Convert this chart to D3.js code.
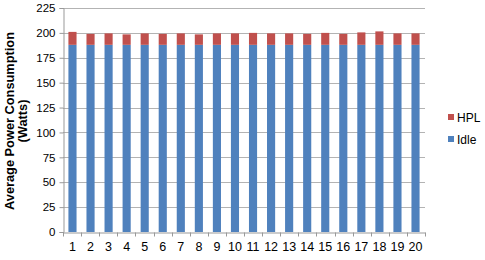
<!DOCTYPE html>
<html>
<head>
<meta charset="utf-8">
<script src="https://cdn.jsdelivr.net/npm/d3@7"></script>
<style>
  body { margin: 0; background: #fff; }
  svg { font-family: "Liberation Sans", Arial, sans-serif; }
</style>
</head>
<body>
<svg width="485" height="260"></svg>
<script>
const runs = d3.range(1, 21).map(String)
const idle = [188, 188, 188, 188, 188, 188, 188, 188, 188, 188, 188, 188, 188, 188, 188, 188, 188, 188, 188, 188]
const hpl = [13, 11, 11.5, 10.5, 11.5, 11, 11.5, 10.5, 11.5, 11.5, 12, 11.5, 11.5, 11, 12, 11, 12.5, 13.5, 11.5, 11.5]
const yTicks = [0, 25, 50, 75, 100, 125, 150, 175, 200, 225]
const seriesNames = ['Idle', 'HPL']
const colors = {Idle: '#4F81BD', HPL: '#C0504D'}

const margin = {top: 8, right: 60, bottom: 28, left: 63}
const width = 485
const height = 260

const rows = runs.map((r, i) => ({run: r, Idle: idle[i], HPL: hpl[i]}))
const stacked = d3.stack().keys(seriesNames)(rows)

const x = d3.scaleBand()
  .domain(runs)
  .range([margin.left, width - margin.right])
  .paddingInner(0.55)
  .paddingOuter(0.3)

const y = d3.scaleLinear()
  .domain([0, 225])
  .range([height - margin.bottom, margin.top])

const svg = d3.select('svg')

// gridlines
svg.append('g')
  .selectAll('line')
  .data(yTicks.slice(1))
  .join('line')
  .attr('x1', margin.left)
  .attr('x2', width - margin.right)
  .attr('y1', d => Math.round(y(d)) + 0.5)
  .attr('y2', d => Math.round(y(d)) + 0.5)
  .attr('stroke', '#b3b3b3')

// bars
svg.append('g')
  .selectAll('g')
  .data(stacked)
  .join('g')
  .attr('fill', d => colors[d.key])
  .selectAll('rect')
  .data(d => d)
  .join('rect')
  .attr('x', d => x(d.data.run))
  .attr('width', x.bandwidth())
  .attr('y', d => y(d[1]))
  .attr('height', d => y(d[0]) - y(d[1]))

// y axis
const yAxis = svg.append('g')
  .attr('transform', `translate(${margin.left + 0.5},0)`)
  .call(d3.axisLeft(y).tickValues(yTicks).tickSize(4).tickPadding(4))
yAxis.select('.domain').attr('stroke', '#999')
yAxis.selectAll('.tick line').attr('stroke', '#999')
yAxis.selectAll('.tick text').attr('font-size', 11.5).attr('fill', '#000')
  .attr('font-family', '"Liberation Sans", Arial, sans-serif')

// x axis
const xAxis = svg.append('g')
  .attr('transform', `translate(0,${Math.round(y(0)) + 0.5})`)
  .call(d3.axisBottom(x).tickSize(0).tickPadding(10))
xAxis.select('.domain').attr('stroke', '#999')
xAxis.selectAll('.tick text').attr('font-size', 12.5).attr('fill', '#000')
  .attr('font-family', '"Liberation Sans", Arial, sans-serif')

// x tick marks between categories
const edges = d3.range(0, runs.length + 1).map(i => margin.left + i * (width - margin.right - margin.left) / runs.length)
xAxis.selectAll('.sep')
  .data(edges)
  .join('line')
  .attr('class', 'sep')
  .attr('x1', d => Math.round(d) + 0.5)
  .attr('x2', d => Math.round(d) + 0.5)
  .attr('y1', 0)
  .attr('y2', 4)
  .attr('stroke', '#999')

// y label
const yLabel = svg.append('text')
  .attr('transform', `translate(13.5,${(margin.top + height - margin.bottom) / 2 + 1}) rotate(-90)`)
  .attr('text-anchor', 'middle')
  .attr('font-size', 12.8)
  .attr('font-weight', 'bold')
yLabel.append('tspan').attr('x', 0).attr('dy', 0).text('Average Power Consumption')
yLabel.append('tspan').attr('x', 0).attr('dy', 13).text('(Watts)')

// legend
const legend = svg.append('g')
  .selectAll('g')
  .data(['HPL', 'Idle'])
  .join('g')
  .attr('transform', (d, i) => `translate(448,${114 + i * 22})`)
legend.append('rect')
  .attr('width', 6).attr('height', 6)
  .attr('fill', d => colors[d])
legend.append('text')
  .attr('x', 9).attr('y', 7.5)
  .attr('font-size', 12)
  .text(d => d)
</script>
</body>
</html>
